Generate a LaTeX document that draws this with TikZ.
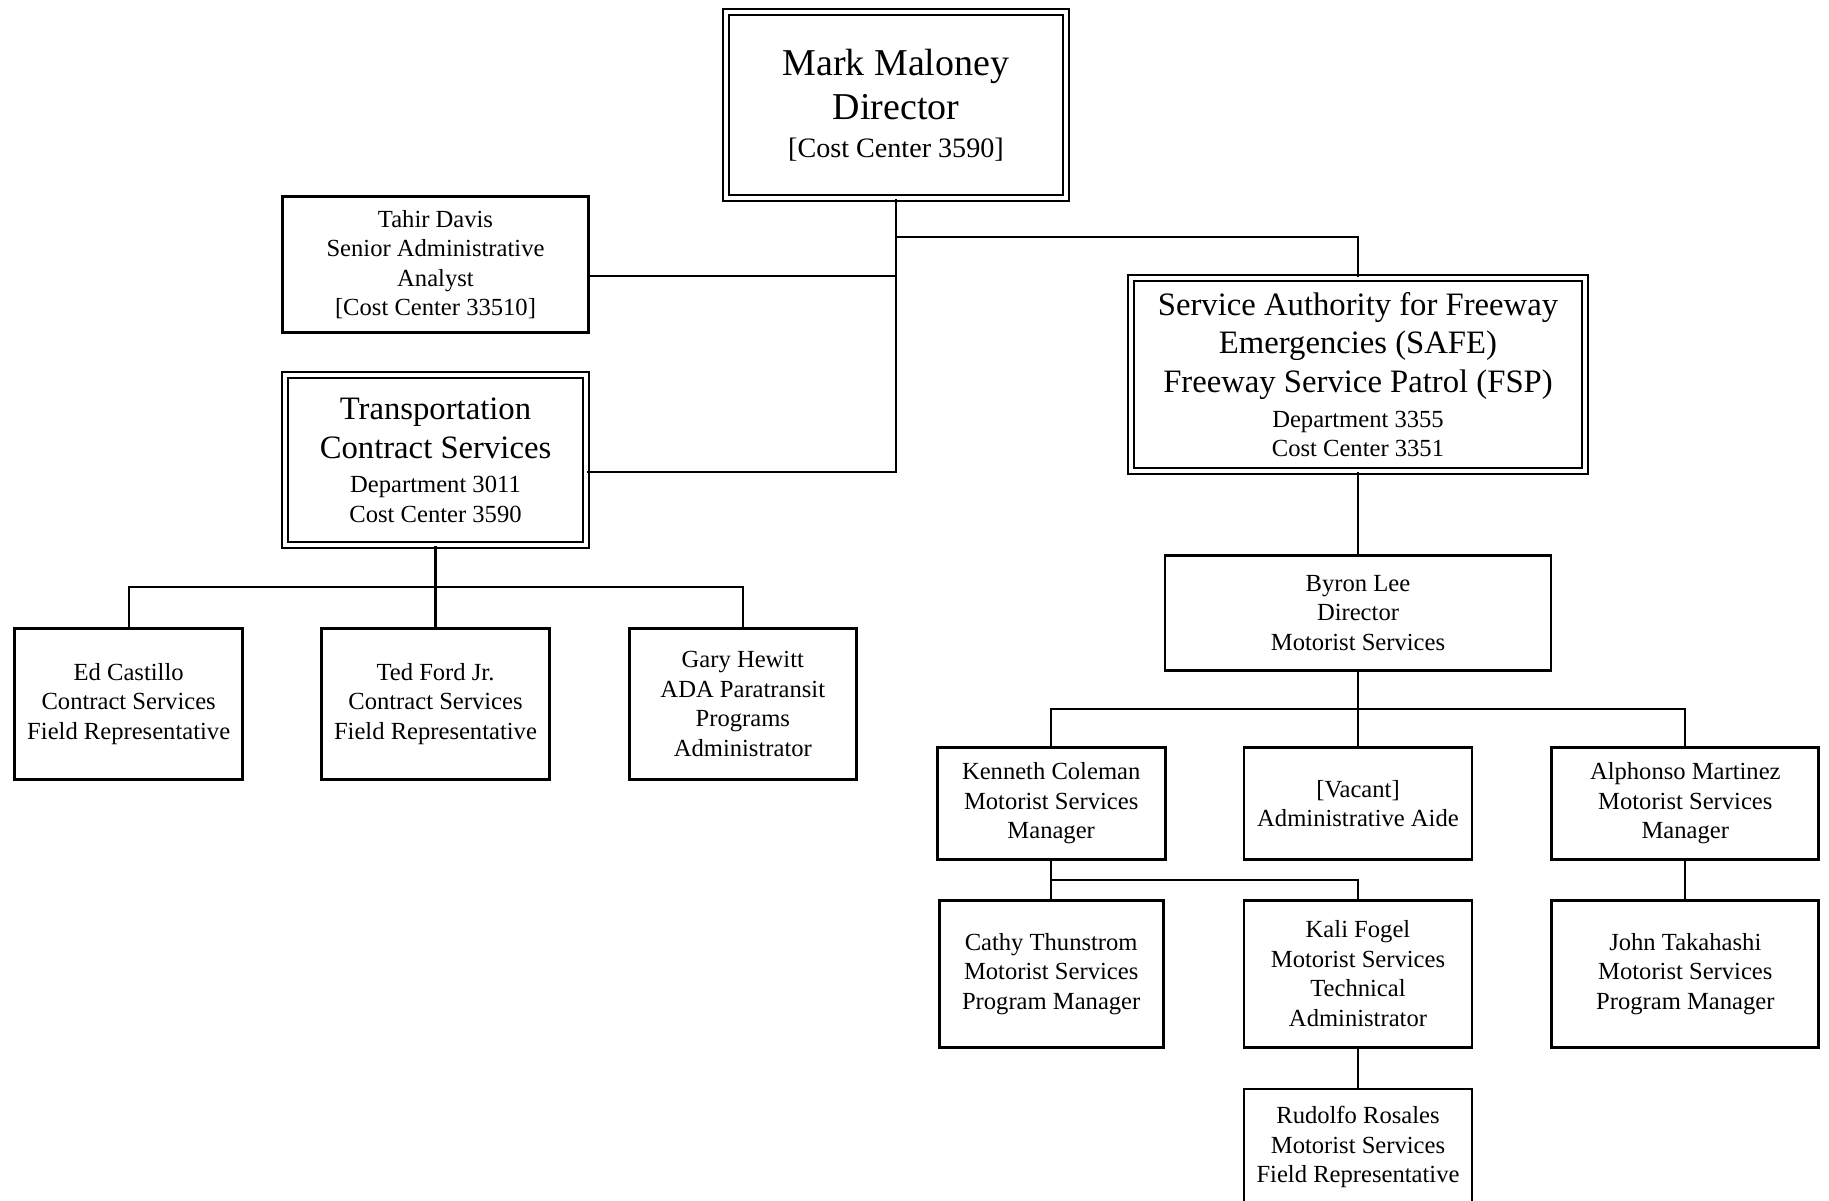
\documentclass[tikz,border=0pt]{standalone}
\usepackage{fontspec}
\setmainfont{Liberation Serif}
\usetikzlibrary{positioning,calc}

\newcommand{\orgsmall}{\fontsize{7}{8.4}\selectfont}
\newcommand{\orgtitle}{\fontsize{9.3}{11}\selectfont}
\newcommand{\orghead}{\fontsize{10.8}{12.6}\selectfont}
\newcommand{\orgbasedir}{\fontsize{8}{12.6}\selectfont}
\newcommand{\orgbasedept}{\fontsize{7}{11}\selectfont}

\begin{document}
\begin{tikzpicture}[node distance=0.76cm,
    box/.style={draw, line width=0.8pt, align=center, inner sep=2pt, font=\orgsmall},
    dbox/.style={draw, double, double distance=0.9pt, line width=0.65pt, align=center, inner sep=2pt},
    link/.style={line width=0.6pt}]
    \path[use as bounding box, fill=white] (0,0) rectangle (18.29,-12);

    % director and staff
    \node[dbox, minimum width=3.40cm, minimum height=1.86cm, font=\orgbasedir] (dir) at (8.96,-1.05)
        {{\orghead Mark Maloney}\\{\orghead Director}\\[-1.7pt]{[Cost Center 3590]}};
    \node[box, minimum width=3.06cm, minimum height=1.36cm] (tahir) at (4.355,-2.645)
        {Tahir Davis\\Senior Administrative\\Analyst\\{[Cost Center 33510]}};
    \node[dbox, minimum width=3.01cm, minimum height=1.70cm, font=\orgbasedept] (trans) at (4.355,-4.60)
        {{\orgtitle Transportation}\\{\orgtitle Contract Services}\\[-1.1pt]Department 3011\\[-2.7pt]Cost Center 3590};
    \node[dbox, minimum width=4.54cm, minimum height=1.93cm, font=\orgbasedept] (safe) at (13.58,-3.745)
        {{\orgtitle Service Authority for Freeway}\\{\orgtitle Emergencies (SAFE)}\\{\orgtitle Freeway Service Patrol (FSP)}\\[-1.1pt]Department 3355\\[-2.7pt]Cost Center 3351};

    % contract services
    \node[box, minimum width=2.28cm, minimum height=1.51cm, below=0.81cm of trans] (ted)
        {Ted Ford Jr.\\Contract Services\\Field Representative};
    \node[box, minimum width=2.28cm, minimum height=1.51cm, left=of ted] (ed)
        {Ed Castillo\\Contract Services\\Field Representative};
    \node[box, minimum width=2.27cm, minimum height=1.51cm, right=0.77cm of ted] (gary)
        {Gary Hewitt\\ADA Paratransit\\Programs\\Administrator};

    % motorist services
    \node[box, minimum width=3.86cm, minimum height=1.15cm, below=0.82cm of safe] (byron)
        {Byron Lee\\Director\\Motorist Services};
    \node[box, minimum width=2.28cm, minimum height=1.12cm, below=0.74cm of byron] (vacant)
        {{[Vacant]}\\Administrative Aide};
    \node[box, minimum width=2.28cm, minimum height=1.12cm, left=of vacant] (kenneth)
        {Kenneth Coleman\\Motorist Services\\Manager};
    \node[box, minimum width=2.67cm, minimum height=1.12cm, right=0.77cm of vacant] (alphonso)
        {Alphonso Martinez\\Motorist Services\\Manager};
    \node[box, minimum width=2.28cm, minimum height=1.47cm, below=0.38cm of vacant] (kali)
        {Kali Fogel\\Motorist Services\\Technical\\Administrator};
    \node[box, minimum width=2.24cm, minimum height=1.47cm, below=0.38cm of kenneth] (cathy)
        {Cathy Thunstrom\\Motorist Services\\Program Manager};
    \node[box, minimum width=2.67cm, minimum height=1.47cm, below=0.38cm of alphonso] (john)
        {John Takahashi\\Motorist Services\\Program Manager};
    \node[box, minimum width=2.28cm, minimum height=1.16cm, below=0.39cm of kali] (rudolfo)
        {Rudolfo Rosales\\Motorist Services\\Field Representative};

    % lines
    \draw[link] (dir.south) |- ([yshift=-1.2mm]trans.east);
    \draw[link] ([yshift=-1.15mm]tahir.east) -| (dir.south);
    \draw[link] (dir.south) ++(0,-0.38) -| (safe.north);
    \draw[link] (safe.south) -- (byron.north);

    \coordinate (tbar) at ($(trans.south)!0.5!(ted.north)$);
    \draw[link] (trans.south) -- (ted.north);
    \draw[link] (ed.north) |- (tbar) -| (gary.north);

    \coordinate (bbar) at ($(byron.south)!0.5!(vacant.north)$);
    \draw[link] (byron.south) -- (vacant.north);
    \draw[link] (kenneth.north) |- (bbar) -| (alphonso.north);

    \coordinate (kbar) at ($(kenneth.south)!0.5!(cathy.north)$);
    \draw[link] (kenneth.south) -- (cathy.north);
    \draw[link] (kbar) -| (kali.north);
    \draw[link] (alphonso.south) -- (john.north);
    \draw[link] (kali.south) -- (rudolfo.north);
\end{tikzpicture}
\end{document}
